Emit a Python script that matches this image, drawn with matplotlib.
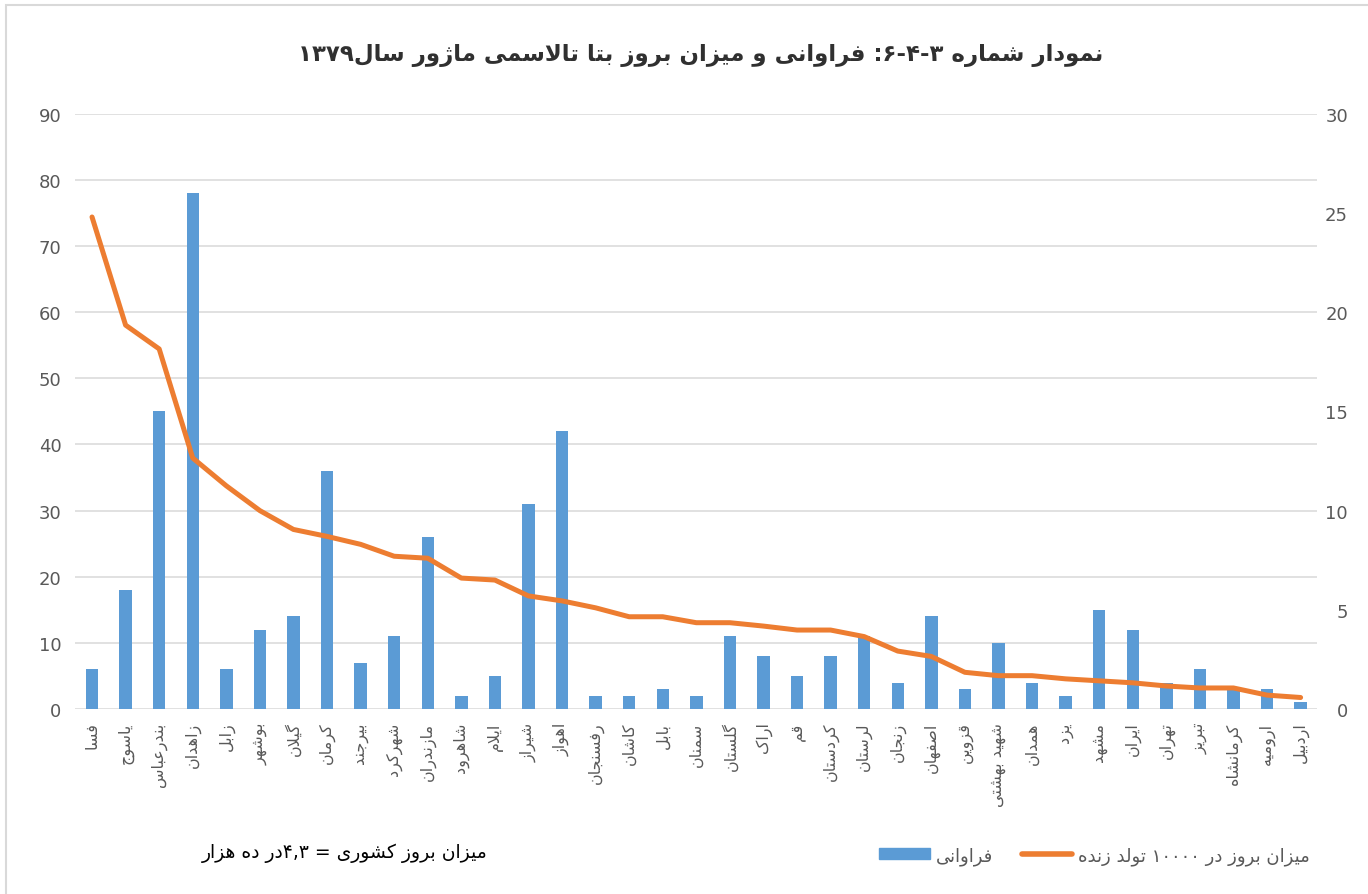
import numpy as np
import matplotlib.pyplot as plt
from matplotlib.patches import Rectangle, Patch
from matplotlib.lines import Line2D

# ------------------------------------------------------------ #
# Persian text: matplotlib does no shaping / bidi, so do it here
# ------------------------------------------------------------ #

# isolated, final, initial, medial
FORMS = {
    'ا': (0xFE8D, 0xFE8E), 'آ': (0xFE81, 0xFE82),
    'د': (0xFEA9, 0xFEAA), 'ذ': (0xFEAB, 0xFEAC),
    'ر': (0xFEAD, 0xFEAE), 'ز': (0xFEAF, 0xFEB0),
    'ژ': (0xFB8A, 0xFB8B), 'و': (0xFEED, 0xFEEE),
    'ب': (0xFE8F, 0xFE90, 0xFE91, 0xFE92), 'پ': (0xFB56, 0xFB57, 0xFB58, 0xFB59),
    'ت': (0xFE95, 0xFE96, 0xFE97, 0xFE98), 'ث': (0xFE99, 0xFE9A, 0xFE9B, 0xFE9C),
    'ج': (0xFE9D, 0xFE9E, 0xFE9F, 0xFEA0), 'چ': (0xFB7A, 0xFB7B, 0xFB7C, 0xFB7D),
    'ح': (0xFEA1, 0xFEA2, 0xFEA3, 0xFEA4), 'خ': (0xFEA5, 0xFEA6, 0xFEA7, 0xFEA8),
    'س': (0xFEB1, 0xFEB2, 0xFEB3, 0xFEB4), 'ش': (0xFEB5, 0xFEB6, 0xFEB7, 0xFEB8),
    'ص': (0xFEB9, 0xFEBA, 0xFEBB, 0xFEBC), 'ض': (0xFEBD, 0xFEBE, 0xFEBF, 0xFEC0),
    'ط': (0xFEC1, 0xFEC2, 0xFEC3, 0xFEC4), 'ظ': (0xFEC5, 0xFEC6, 0xFEC7, 0xFEC8),
    'ع': (0xFEC9, 0xFECA, 0xFECB, 0xFECC), 'غ': (0xFECD, 0xFECE, 0xFECF, 0xFED0),
    'ف': (0xFED1, 0xFED2, 0xFED3, 0xFED4), 'ق': (0xFED5, 0xFED6, 0xFED7, 0xFED8),
    'ک': (0xFB8E, 0xFB8F, 0xFB90, 0xFB91), 'گ': (0xFB92, 0xFB93, 0xFB94, 0xFB95),
    'ل': (0xFEDD, 0xFEDE, 0xFEDF, 0xFEE0), 'م': (0xFEE1, 0xFEE2, 0xFEE3, 0xFEE4),
    'ن': (0xFEE5, 0xFEE6, 0xFEE7, 0xFEE8), 'ه': (0xFEE9, 0xFEEA, 0xFEEB, 0xFEEC),
    'ی': (0xFBFC, 0xFBFD, 0xFBFE, 0xFBFF),
}
DIGITS = '0123456789۰۱۲۳۴۵۶۷۸۹'


def shape(s):
    out = []
    i = 0
    while i < len(s):
        c = s[i]
        if c not in FORMS:
            out.append(c)
            i += 1
            continue
        jp = i > 0 and s[i-1] in FORMS and len(FORMS[s[i-1]]) == 4
        if c == 'ل' and i+1 < len(s) and s[i+1] == 'ا':
            out.append(chr(0xFEFC if jp else 0xFEFB))
            i += 2
            continue
        f = FORMS[c]
        jn = len(f) == 4 and i+1 < len(s) and s[i+1] in FORMS
        if jp and jn:
            code = f[3]
        elif jp:
            code = f[1]
        elif jn:
            code = f[2]
        else:
            code = f[0]
        out.append(chr(code))
        i += 1
    return ''.join(out)


def fa(s):
    # numbers (with , or . inside) stay left-to-right, the rest is reversed
    t = shape(s)
    runs = []
    i = 0
    while i < len(t):
        j = i
        if t[i] in DIGITS:
            while j < len(t) and (t[j] in DIGITS or (t[j] in ',.' and j+1 < len(t) and t[j+1] in DIGITS)):
                j += 1
            runs.append(t[i:j])
        else:
            while j < len(t) and t[j] not in DIGITS:
                j += 1
            runs.append(t[i:j][::-1])
        i = j
    return ''.join(runs[::-1])


# ---------- #
# Data
# ---------- #

cities = ['فسا', 'یاسوج', 'بندرعباس', 'زاهدان', 'زابل', 'بوشهر', 'گیلان', 'کرمان',
          'بیرجند', 'شهرکرد', 'مازندران', 'شاهرود', 'ایلام', 'شیراز', 'اهواز',
          'رفسنجان', 'کاشان', 'بابل', 'سمنان', 'گلستان', 'اراک', 'قم', 'کردستان',
          'لرستان', 'زنجان', 'اصفهان', 'قزوین', 'شهید بهشتی', 'همدان', 'یزد',
          'مشهد', 'ایران', 'تهران', 'تبریز', 'کرمانشاه', 'ارومیه', 'اردبیل']
frequency = [6, 18, 45, 78, 6, 12, 14, 36, 7, 11, 26, 2, 5, 31, 42,
             2, 2, 3, 2, 11, 8, 5, 8, 11, 4, 14, 3, 10, 4, 2,
             15, 12, 4, 6, 3, 3, 1]
incidence = [24.8, 19.35, 18.15, 12.65, 11.25, 10.0, 9.05, 8.7, 8.3, 7.7, 7.6,
             6.6, 6.5, 5.7, 5.45, 5.1, 4.65, 4.65, 4.35, 4.35, 4.18, 3.98, 3.98,
             3.65, 2.92, 2.65, 1.85, 1.68, 1.68, 1.52, 1.42, 1.32, 1.16, 1.06,
             1.06, 0.7, 0.58]

title = 'نمودار شماره ۳-۴-۶: فراوانی و میزان بروز بتا تالاسمی ماژور سال۱۳۷۹'
note = 'میزان بروز کشوری = ۴,۳در ده هزار'
bar_label = 'فراوانی'
line_label = 'میزان بروز در ۱۰۰۰۰ تولد زنده'

blue = '#5B9BD5'
orange = '#ED7D31'
grey = '#595959'

plt.rcParams['font.family'] = ['DejaVu Sans']

fig = plt.figure(figsize=(13.68, 8.95), dpi=100)
ax = fig.add_axes([0.055, 0.2067, 0.908, 0.665])
ax2 = ax.twinx()

x = np.arange(len(cities))
ax.bar(x, frequency, width=0.37, color=blue, zorder=3)
ax2.plot(x, incidence, color=orange, lw=3.6, solid_capstyle='round', solid_joinstyle='round', zorder=4)

ax.set_xlim(-0.5, len(cities) - 0.5)
ax.set_ylim(0, 90)
ax.set_yticks(np.arange(0, 91, 10))
ax2.set_ylim(0, 30)
ax2.set_yticks(np.arange(0, 31, 5))

ax.grid(axis='y', color='#D9D9D9', lw=1.1, zorder=0)
ax.set_axisbelow(True)
for a in (ax, ax2):
    for sp in a.spines.values():
        sp.set_visible(False)

ax.set_xticks(x)
ax.set_xticklabels([fa(c) for c in cities], rotation=90, fontsize=11.5, color=grey)
ax.tick_params(axis='x', length=0, pad=9)
ax.tick_params(axis='y', length=0, pad=10, labelsize=13, labelcolor=grey)
ax2.tick_params(axis='y', length=0, pad=22, labelsize=13, labelcolor=grey)
for lbl in ax2.get_yticklabels():
    lbl.set_horizontalalignment('right')

fig.text(0.512, 0.938, fa(title), ha='center', va='center', fontsize=16.5,
         fontweight='bold', color='#303030')
fig.text(0.252, 0.047, fa(note), ha='center', va='center', fontsize=13.5, color='black')

handles = [Patch(color=blue), Line2D([], [], color=orange, lw=4, solid_capstyle='round')]
fig.legend(handles, [fa(bar_label), fa(line_label)], ncol=2, frameon=False,
           loc='center', bbox_to_anchor=(0.80, 0.043), fontsize=13,
           handlelength=2.8, handleheight=0.55, handletextpad=0.3, columnspacing=1.6,
           labelcolor=grey)

# chart border
fig.patches.append(Rectangle((0.0045, -0.01), 1.1, 1.003, transform=fig.transFigure,
                             fill=False, edgecolor='#D9D9D9', lw=1.5))

fig.savefig('out.png', dpi=100)
